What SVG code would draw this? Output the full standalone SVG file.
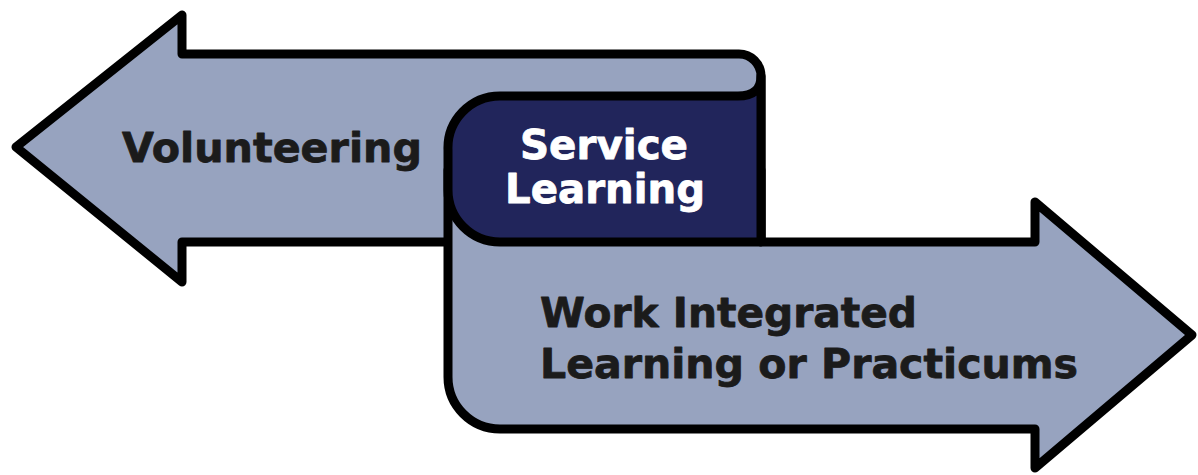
<svg xmlns="http://www.w3.org/2000/svg" width="1198" height="475" viewBox="0 0 1198 475">
  <style>
    .shape { stroke: #000; stroke-width: 9; stroke-linejoin: round; stroke-linecap: round; }
    .light { fill: #97a3bf; }
    .dark { fill: #21255b; }
    .label { font-family: "DejaVu Sans", "Liberation Sans", sans-serif; font-weight: bold; font-size: 41px; stroke-width: 0.8; stroke-linejoin: round; }
    .ink { fill: #1b1b1b; stroke: #1b1b1b; }
    .paper { fill: #ffffff; stroke: #ffffff; }
  </style>
  <rect width="1198" height="475" fill="#ffffff"/>

  <!-- left-pointing arrow with its rolled top edge -->
  <g id="volunteering">
    <path class="shape light" d="M 761 242 L 182 242 L 182 282 L 16 147 L 182 15 L 182 54 L 739 54 A 22 22 0 0 1 761 76 Z"/>
    <text class="label ink" x="122" y="162" textLength="300" lengthAdjust="spacingAndGlyphs">Volunteering</text>
  </g>

  <!-- right-pointing arrow unrolling from under the centre panel -->
  <g id="work-integrated-learning">
    <path class="shape light" d="M 448 170 L 448 377 A 52 52 0 0 0 500 429 L 1035 429 L 1035 468 L 1192 335 L 1035 202 L 1035 242 L 761 242 L 761 170 Z"/>
    <text class="label ink" x="540" y="327" textLength="377" lengthAdjust="spacingAndGlyphs">Work Integrated</text>
    <text class="label ink" x="540" y="378" textLength="538" lengthAdjust="spacingAndGlyphs">Learning or Practicums</text>
  </g>

  <!-- centre panel where the two arrows overlap -->
  <g id="service-learning">
    <path class="shape dark" d="M 448 150 A 52 52 0 0 1 500 96 L 738 96 Q 761 96 761 76 L 761 242 L 500 242 A 52 52 0 0 1 448 190 Z"/>
    <text class="label paper" x="604" y="159" text-anchor="middle" textLength="168" lengthAdjust="spacingAndGlyphs">Service</text>
    <text class="label paper" x="605" y="203" text-anchor="middle" textLength="200" lengthAdjust="spacingAndGlyphs">Learning</text>
  </g>

  <g id="connectors"/>
</svg>
